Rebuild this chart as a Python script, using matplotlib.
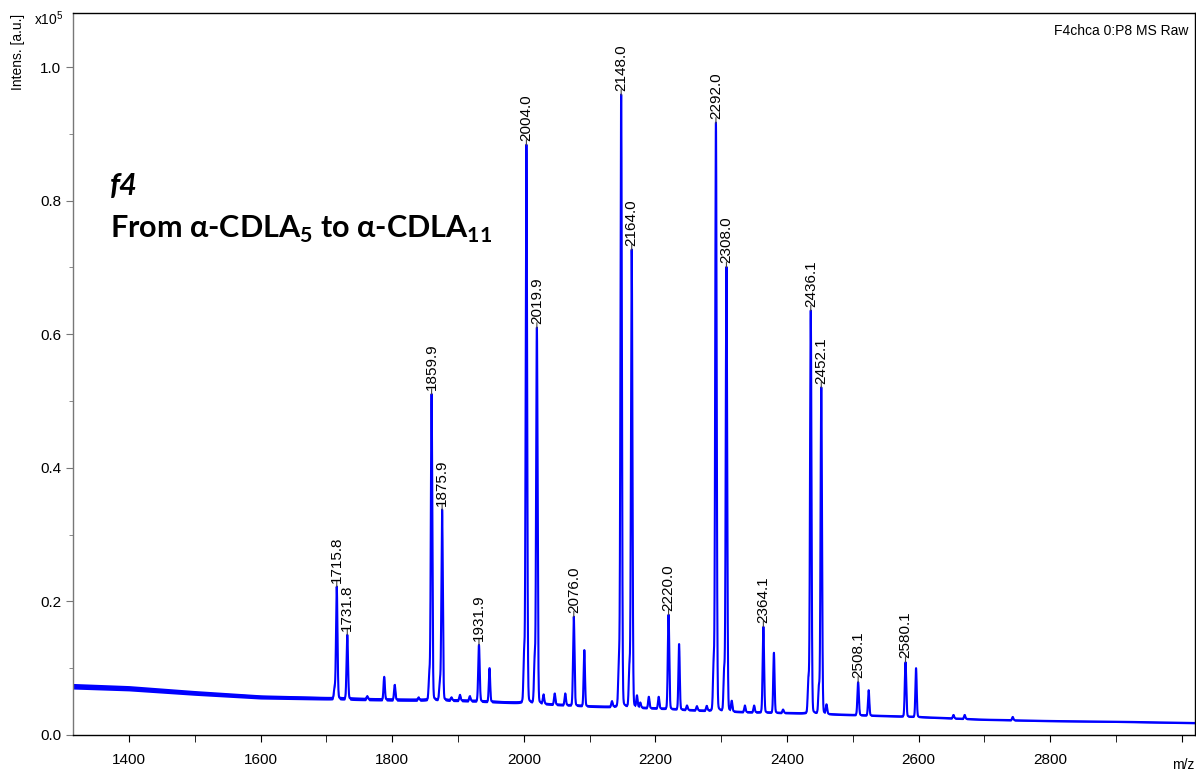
import numpy as np
import matplotlib
matplotlib.use("Agg")
import matplotlib.pyplot as plt
from matplotlib.ticker import MultipleLocator, FuncFormatter

plt.rcParams['font.family'] = ['Liberation Sans', 'DejaVu Sans']
plt.rcParams['mathtext.fontset'] = 'custom'
plt.rcParams['mathtext.rm'] = 'Liberation Sans'
plt.rcParams['mathtext.bf'] = 'Lato:bold'

# ---------------- data (intensity in units of 1e5 a.u.) ----------------
labeled_mz = [1715.8, 1731.8, 1859.9, 1875.9, 1931.9, 2004.0, 2019.9, 2076.0,
              2148.0, 2164.0, 2220.0, 2292.0, 2308.0, 2364.1, 2436.1, 2452.1,
              2508.1, 2580.1]
labeled_int = [0.222, 0.150, 0.510, 0.337, 0.135, 0.883, 0.609, 0.177,
               0.958, 0.726, 0.180, 0.916, 0.700, 0.162, 0.635, 0.520,
               0.079, 0.109]

minor_mz = [1787.9, 1803.9, 1947.9, 2092.0, 2236.0, 2380.1, 2524.1, 2596.1,
            1903.0, 1918.0, 2047.0, 2063.0, 2134.0, 2177.0, 2190.0, 2205.0,
            2248.0, 2263.0, 2278.0, 2336.0, 2350.0, 2394.0, 2653.0, 2670.0,
            2743.0, 2000.5, 2016.5, 2144.5, 2160.5, 2288.5, 2304.5, 2432.5,
            2448.5, 1856.5, 1872.5, 1712.5, 1762.0, 1840.0, 1890.0, 2030.0,
            2172.0, 2316.0, 2460.0]
minor_int = [0.087, 0.075, 0.100, 0.127, 0.136, 0.123, 0.067, 0.100,
             0.060, 0.058, 0.062, 0.062, 0.050, 0.048, 0.057, 0.057,
             0.044, 0.043, 0.043, 0.044, 0.044, 0.038, 0.030, 0.030,
             0.027, 0.117, 0.110, 0.109, 0.097, 0.103, 0.093, 0.080,
             0.070, 0.090, 0.080, 0.070, 0.058, 0.056, 0.056, 0.060,
             0.058, 0.050, 0.045]

baseline_mz = [1315, 1400, 1500, 1600, 1700, 1800, 1900, 2000, 2100, 2200,
               2300, 2400, 2500, 2600, 2700, 2800, 2900, 3020]
baseline_int = [0.073, 0.070, 0.063, 0.057, 0.055, 0.053, 0.052, 0.048, 0.043,
                0.040, 0.035, 0.033, 0.030, 0.027, 0.023, 0.021, 0.020, 0.018]
noise_half = [0.0042, 0.0040, 0.0036, 0.0032, 0.0028, 0.0025, 0.0023, 0.0021,
              0.0019, 0.0018, 0.0017, 0.0016, 0.0015, 0.0014, 0.0013, 0.0013,
              0.0013, 0.0013]

# ---------------- build spectrum trace ----------------
mz = np.arange(1315.0, 3020.0, 0.05)
base = np.interp(mz, baseline_mz, baseline_int)
spec = base.copy()


def add_peak(m, h, sigma):
    b = np.interp(m, baseline_mz, baseline_int)
    a = max(h - b, 0)
    core = np.exp(-0.5 * ((mz - m) / sigma) ** 2)
    wing = 1.0 / (1.0 + ((mz - m) / (1.5 * sigma)) ** 2)
    return a * (0.96 * core + 0.04 * wing)


for m, h in zip(labeled_mz, labeled_int):
    spec += add_peak(m, h, 1.1)
for m, h in zip(minor_mz, minor_int):
    spec += add_peak(m, h, 1.0)
half = np.interp(mz, baseline_mz, noise_half)

# ---------------- figure ----------------
fig = plt.figure(figsize=(11.96, 7.74), dpi=100)
ax = fig.add_axes([73 / 1196, 39 / 774, (1195 - 73) / 1196, (735 - 13) / 774])

ax.fill_between(mz, spec - half, spec + half, color='#0000ff', lw=0)
ax.plot(mz, spec, color='#0000ff', lw=1.5)

for m, h in zip(labeled_mz, labeled_int):
    ax.annotate('', xy=(m, h), xytext=(0, 4), textcoords='offset points',
                arrowprops=dict(arrowstyle='-', color='#444444', lw=0.8,
                                shrinkA=0, shrinkB=0))
    ax.annotate(f'{m:.1f}', xy=(m, h), xytext=(0, 3), textcoords='offset points',
                rotation=90, ha='center', va='bottom', fontsize=11, color='black')

ax.set_xlim(1315, 3020)
ax.set_ylim(0, 1.081)
ax.xaxis.set_major_locator(MultipleLocator(200))
ax.xaxis.set_minor_locator(MultipleLocator(100))
ax.xaxis.set_major_formatter(FuncFormatter(lambda v, p: f'{v:.0f}' if v <= 2800 else ''))
ax.yaxis.set_major_locator(MultipleLocator(0.2))
ax.yaxis.set_minor_locator(MultipleLocator(0.1))
ax.yaxis.set_major_formatter(FuncFormatter(lambda v, p: f'{v:.1f}'))
ax.tick_params(axis='both', which='both', direction='out', labelsize=11)
ax.tick_params(axis='x', which='major', length=5, pad=8)
ax.tick_params(axis='x', which='minor', length=5)
ax.tick_params(axis='y', which='major', length=5, color='#777777')
ax.tick_params(axis='y', which='minor', length=3, color='#777777')
ax.spines['left'].set_color('#777777')
for s in ax.spines.values():
    s.set_linewidth(1.0)

fig.text(18 / 1196, 1 - 52 / 774, 'Intens. [a.u.]', rotation=90, ha='center',
         va='center', fontsize=10)
fig.text(34 / 1196, 1 - 19 / 774, 'x10$^5$', ha='left', va='center', fontsize=10)
fig.text(1183 / 1196, 1 - 765 / 774, 'm/z', ha='center', va='center', fontsize=10)
ax.text(0.9945, 0.975, 'F4chca 0:P8 MS Raw', transform=ax.transAxes,
        ha='right', va='center', fontsize=10)

ax.text(0.033, 0.760, 'f4', transform=ax.transAxes, fontsize=22,
        fontweight='bold', fontstyle='italic', family='Lato', va='center')
ax.text(0.033, 0.700, r'From α-CDLA$_\mathbf{5}$ to α-CDLA$_\mathbf{11}$',
        transform=ax.transAxes, fontsize=22, fontweight='bold', family='Lato',
        va='center')

fig.savefig('out.png', dpi=100)
